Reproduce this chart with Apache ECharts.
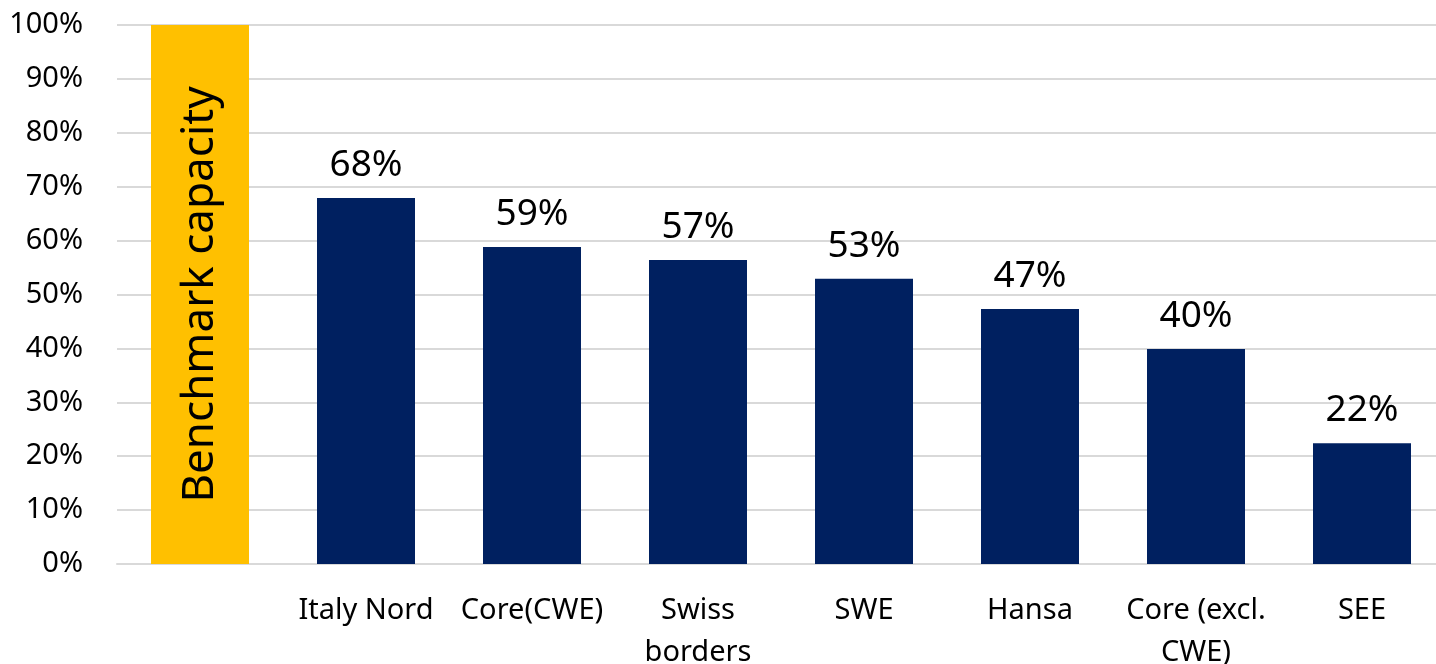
<!DOCTYPE html>
<html>
<head>
<meta charset="utf-8">
<script src="https://cdn.jsdelivr.net/npm/echarts@6/dist/echarts.min.js"></script>
<style>
  html, body { margin: 0; padding: 0; background: #fff; }
  #chart { width: 1436px; height: 664px; }
</style>
</head>
<body>
<div id="chart"></div>
<script>
var categories = ['', 'Italy Nord', 'Core(CWE)', 'Swiss\nborders', 'SWE', 'Hansa', 'Core (excl.\nCWE)', 'SEE']
var values = [100, 67.9, 58.8, 56.4, 52.9, 47.3, 39.9, 22.4]
var valueLabels = ['Benchmark capacity', '68%', '59%', '57%', '53%', '47%', '40%', '22%']
var yTicks = [0, 10, 20, 30, 40, 50, 60, 70, 80, 90, 100]

var font = 'Noto Sans'

var barData = []
for (var i = 0; i < values.length; i++) {
    var item = { value: values[i], label: { formatter: valueLabels[i] } }
    if (i === 0) {
        // benchmark bar: yellow, label written vertically inside
        item.itemStyle = { color: '#FFC000' }
        item.label = {
            show: true,
            position: 'inside',
            rotate: 90,
            formatter: valueLabels[i],
            fontSize: 44,
            color: '#000',
            fontFamily: font
        }
    }
    barData.push(item)
}

var option = {
    animation: false,
    backgroundColor: '#fff',
    grid: {
        left: 117,
        right: -9,
        top: 25,
        bottom: 100,
        containLabel: false,
        outerBoundsMode: 'none'
    },
    xAxis: {
        type: 'category',
        data: categories,
        axisTick: { show: false },
        axisLine: { lineStyle: { color: '#d9d9d9', width: 2 } },
        axisLabel: {
            color: '#000',
            fontSize: 29,
            fontFamily: font,
            lineHeight: 42,
            margin: 26,
            interval: 0
        }
    },
    yAxis: {
        type: 'value',
        min: yTicks[0],
        max: yTicks[yTicks.length - 1],
        interval: 10,
        axisLine: { show: false },
        axisTick: { show: false },
        splitLine: { lineStyle: { color: '#d9d9d9', width: 2 } },
        axisLabel: {
            color: '#000',
            fontSize: 29,
            fontFamily: font,
            margin: 34,
            formatter: '{value}%'
        }
    },
    series: [{
        type: 'bar',
        data: barData,
        barWidth: 98,
        itemStyle: { color: '#002060' },
        label: {
            show: true,
            position: 'top',
            distance: 14,
            color: '#000',
            fontSize: 37,
            fontFamily: font
        }
    }]
}

var myChart = echarts.init(document.getElementById('chart'))
myChart.setOption(option)
</script>
</body>
</html>
